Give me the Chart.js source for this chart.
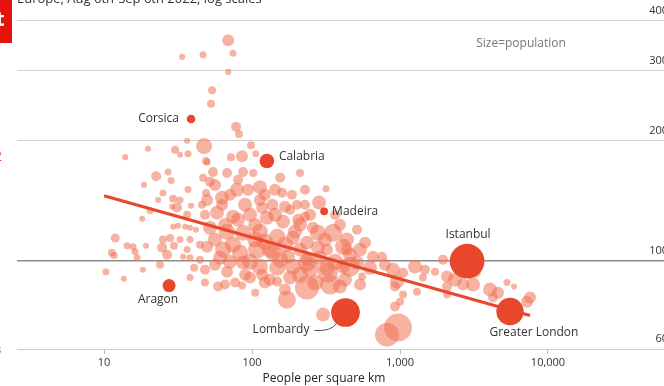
<!DOCTYPE html>
<html lang="en">
<head>
<meta charset="UTF-8">
<title>Density scatter</title>
<script src="https://cdn.jsdelivr.net/npm/chart.js"></script>
<style>
  html, body { margin: 0; padding: 0; overflow: hidden; background: #fff; }
  .wrap { width: 676px; height: 386px; }
</style>
</head>
<body>
<div class="wrap"><canvas id="chart"></canvas></div>
<script>
// regions: people per sq km, y value, population (millions)
const regionDensity = [
  69, 33.7, 46.7, 74.4, 69, 53.7, 52.8, 78, 81.7, 47.4,
  36.4, 98.5, 30.2, 32.6, 36.9, 19.8, 13.9, 72.1, 85.6, 106,
  48.9, 22.5, 27.1, 28.4, 18.6, 25, 29.3, 23.2, 36.9, 32.6,
  211, 316, 284, 18.1, 31.1, 36.4, 20.5, 11.9, 14.3, 15.7,
  11.3, 11.7, 16.2, 16.7, 19.2, 10.3, 13.6, 18.3, 23.9, 25,
  27.9, 24.7, 26.7, 29.7, 32.6, 36.4, 34.2, 29.3, 31.6, 35.3,
  38.1, 41.8, 38.7, 45.9, 48.9, 28.8, 38.1, 44.5, 44.5, 38.1,
  40.6, 48.1, 38.1, 48.1, 58.9, 46.7, 54.5, 52, 49.7, 67.8,
  87, 102, 113, 143, 186, 201, 167, 137, 79.2, 62.7,
  49.7, 58, 74.4, 97, 126, 162, 205, 258, 438, 512,
  52, 67.8, 87, 113, 148, 189, 235, 321, 49.7, 63.7,
  83, 108, 139, 175, 235, 438, 76.8, 85.6, 105, 122,
  148, 235, 337, 172, 302, 925, 97, 67.8, 87, 113,
  148, 189, 247, 321, 412, 512, 657, 756, 228, 353,
  279, 412, 537, 235, 326, 459, 554, 897, 1048, 1263,
  1475, 1724, 954, 1430, 1952, 2078, 2353, 3212, 2666, 3113,
  2078, 2078, 1303, 4057, 4594, 5284, 5893, 4251, 7557, 7214,
  1000, 925, 969, 817, 1048, 267, 393, 56.2, 71, 89.7,
  113, 65.7, 105, 167, 211, 56.2, 71, 97, 122, 155,
  195, 288, 364, 181, 132, 60.8, 80.4, 155, 181, 228,
  122, 94, 159.5, 228, 247, 311, 393, 459, 580, 626,
  791, 537, 425, 211, 167, 117, 89.7, 65.7, 56.2, 80.4,
  62.7, 48.1, 105, 132, 211, 279, 74.4, 143, 117, 364
];
const regionRate = [
  358, 325, 329, 332, 298, 268, 248, 217, 208, 194,
  200, 195, 190, 184.5, 185.5, 191, 182, 182, 183, 185.5,
  178, 163, 167, 159, 155, 148, 143, 142, 151, 142,
  166, 151.5, 140, 127.5, 136, 130.4, 133.5, 114, 109, 108.4,
  104.7, 103, 105.3, 101.7, 109, 93.8, 90.1, 94.9, 97.7, 113,
  114, 107.8, 103.5, 109, 113, 106.6, 102.3, 121.7, 122.4, 121.7,
  121, 119.6, 137.4, 138.2, 148, 136.6, 113, 109.7, 100.6, 101.7,
  96, 94.9, 90.7, 88.1, 86.1, 161.5, 167, 157.8, 177, 166,
  167, 166, 153, 150.7, 146.4, 138.2, 136.6, 138.2, 150.7, 143.9,
  142, 132, 129, 130.4, 128.2, 125.3, 126.7, 121, 113, 119.6,
  121, 118.2, 117.5, 118.2, 114.9, 114.2, 111, 106.6, 108.4, 106.6,
  104.7, 106.6, 104.7, 102.3, 100.6, 106.6, 88.1, 86.6, 83.1, 88.1,
  88.6, 85.6, 87.1, 79.8, 73.2, 76.7, 90.7, 93.8, 98.9, 96.6,
  96, 96.6, 96, 96, 96.6, 98.9, 102.3, 102.3, 129, 117.5,
  117.5, 108.4, 106.6, 98.9, 93.3, 96.6, 91.2, 94.9, 93.3, 96.6,
  94.9, 93.8, 88.6, 90.7, 100.6, 91.2, 89.6, 93.8, 87.1, 87.1,
  86.1, 82.2, 83.6, 84.6, 83.1, 88.1, 86.1, 80.8, 80.8, 78.9,
  78.9, 86.1, 67.9, 65.2, 82.2, 88.1, 86.1, 155, 146.4, 138.2,
  142, 123, 123, 109.7, 106.6, 113, 99.4, 99.4, 111.6, 100.6,
  118.2, 101.7, 99.4, 90.7, 89.6, 101.7, 159.7, 161.5, 134.2, 138.2,
  146.4, 150.7, 148.1, 150.7, 130.4, 112.9, 123.1, 103.5, 111, 96,
  97.7, 87.1, 89.6, 92.2, 84.6, 92.2, 92.2, 87.1, 97.7, 126.7,
  138.2, 130.4, 112.9, 106.6, 123.1, 107.8, 109.7, 130.4, 135.8, 130.4
];
const regionPop = [
  1.05, .07, .15, .15, .07, .26, .26, .59, .26, 2.37,
  .07, .26, .26, .07, .15, .07, .07, .26, 1.05, .15,
  .26, .59, .15, .15, .07, .15, .26, .07, .15, .15,
  .26, .15, 1.64, .07, .59, .26, .15, .41, .15, .15,
  .26, .15, .15, .15, .07, .15, .07, .07, .26, .26,
  .26, .59, .59, .26, .15, .15, .07, .07, .07, .07,
  .07, .07, .07, .26, .26, .07, .15, .26, .26, .15,
  .26, .59, .15, .26, .59, .26, .59, .59, .15, .59,
  .59, .26, 1.64, 1.05, .59, .59, 1.05, 1.05, 1.64, 1.64,
  1.05, 1.64, 1.64, 1.64, 1.64, 1.64, 1.05, 1.05, 1.64, .59,
  1.64, 2.37, 2.37, 2.37, 2.37, 1.64, 1.64, 1.05, 1.05, 2.37,
  2.37, 3.22, 2.37, 1.64, 1.05, 1.05, .59, .26, .26, 1.05,
  .59, 6.57, 4.21, 3.22, 1.64, .59, 1.05, 1.05, 1.64, 2.37,
  2.37, 2.37, 3.22, 2.37, 1.64, 1.64, 1.05, .59, .59, 3.22,
  2.37, 2.37, 1.64, 3.22, 4.21, 4.21, .26, 1.64, .59, 1.64,
  .59, .26, 1.64, .26, .59, 1.05, 1.64, 1.05, 1.05, 1.64,
  .59, .26, .26, 1.64, 1.05, .15, .07, .59, 1.05, 1.05,
  .26, .59, 9.47, 6.57, .26, 2.37, 1.64, 1.05, 1.05, 1.64,
  1.05, 1.64, 1.64, 2.37, 1.64, 1.64, 1.64, 2.37, 2.37, 2.37,
  1.64, 1.64, 2.37, 1.64, 1.05, 1.64, .59, .59, .59, .59,
  1.05, 1.05, .59, .59, 1.05, 1.64, 1.05, 1.64, 1.05, 1.64,
  1.05, 1.05, 1.64, 2.37, 1.05, 1.05, 1.05, .59, 1.05, 1.64,
  1.05, .59, 2.37, 2.37, 1.64, 1.64, 2.37, 1.64, 1.05, .59
];

// highlighted regions
const namedRegions = ['Corsica', 'Calabria', 'Madeira', 'Istanbul', 'Lombardy', 'Greater London', 'Aragon'];
const namedDensity = [38.7, 126, 307, 2840, 428, 5540, 27.5];
const namedRate = [227, 178, 133, 99.7, 74.1, 74.5, 86.6];
const namedPop = [0.34, 1.86, 0.25, 15.5, 10, 9.0, 1.33];

// fitted line end points
const trendDensity = [10, 7560];
const trendRate = [145.6, 72.8];

const xTicks = [10, 100, 1000, 10000];
const yTicks = [60, 100, 200, 300, 400];

const FONT = '"Open Sans", sans-serif';
const RED = '#e9472c';

const sizeFromPop = c => 2 + 3.9 * Math.sqrt(c.raw.pop);

const regionPoints = regionDensity.map((d, i) => ({ x: d, y: regionRate[i], pop: regionPop[i] }));
const namedPoints = namedDensity.map((d, i) => ({ x: d, y: namedRate[i], pop: namedPop[i], name: namedRegions[i] }));
const trendPoints = trendDensity.map((d, i) => ({ x: d, y: trendRate[i] }));

// label offsets from each highlighted bubble
const labelPlacement = {
  'Corsica': [-12, 0, 'right'],
  'Calabria': [12, -4, 'left'],
  'Madeira': [8, 0, 'left'],
  'Istanbul': [1, -27, 'center'],
  'Lombardy': [-36, 17, 'right'],
  'Greater London': [24, 21, 'center'],
  'Aragon': [-11, 14, 'center']
};

const annotations = {
  id: 'annotations',
  afterDatasetsDraw(chart) {
    const { ctx, chartArea, scales: { x, y } } = chart;
    ctx.save();

    // y tick labels sit above their gridlines at the right edge
    ctx.font = '11px ' + FONT;
    ctx.fillStyle = '#333';
    ctx.textAlign = 'right';
    ctx.textBaseline = 'middle';
    y.ticks.forEach(t => {
      ctx.fillText(String(t.value), chartArea.right - 8, y.getPixelForValue(t.value) - 10);
    });

    ctx.font = '12px ' + FONT;
    namedPoints.forEach(p => {
      const px = x.getPixelForValue(p.x);
      const py = y.getPixelForValue(p.y);
      const [dx, dy, align] = labelPlacement[p.name];
      ctx.textAlign = align;
      ctx.fillText(p.name, px + dx, py + dy);
      if (p.name === 'Lombardy') {
        ctx.strokeStyle = '#555';
        ctx.lineWidth = 1;
        ctx.beginPath();
        ctx.moveTo(px - 31, py + 18);
        ctx.quadraticCurveTo(px - 14, py + 19, px - 9, py + 11);
        ctx.stroke();
      }
    });

    // x axis title, centred under the visible part of the axis
    ctx.fillStyle = '#222';
    ctx.textAlign = 'center';
    ctx.fillText('People per square km', 324, 379);

    ctx.fillStyle = '#777';
    ctx.fillText('Size=population', 521, 44);

    // subtitle above the plot, mostly off the top edge
    ctx.fillStyle = '#333';
    ctx.textAlign = 'left';
    ctx.textBaseline = 'alphabetic';
    ctx.font = '13px ' + FONT;
    ctx.fillText('Europe, Aug 6th-Sep 6th 2022, log scales', 17, 3);

    // page edge bits on the left
    ctx.fillStyle = '#e3120b';
    ctx.fillRect(0, 0, 12, 43);
    ctx.fillStyle = '#fff';
    ctx.font = 'bold 20px ' + FONT;
    ctx.fillText('t', -4, 26);
    ctx.fillStyle = '#e8364f';
    ctx.font = '14px ' + FONT;
    ctx.fillText('2', -6, 161);
    ctx.fillStyle = '#2a6fb5';
    ctx.font = '11px ' + FONT;
    ctx.fillText('3', -5, 354);
    ctx.restore();
  }
};

new Chart(document.getElementById('chart'), {
  type: 'scatter',
  data: {
    datasets: [
      {
        data: regionPoints,
        backgroundColor: 'rgba(240,115,85,0.55)',
        borderWidth: 0,
        pointRadius: sizeFromPop,
        pointHoverRadius: sizeFromPop,
        order: 3
      },
      {
        type: 'line',
        data: trendPoints,
        borderColor: RED,
        borderWidth: 3,
        pointRadius: 0,
        order: 2
      },
      {
        data: namedPoints,
        backgroundColor: RED,
        borderWidth: 0,
        pointRadius: sizeFromPop,
        pointHoverRadius: sizeFromPop,
        order: 1
      }
    ]
  },
  options: {
    responsive: true,
    maintainAspectRatio: false,
    animation: false,
    events: [],
    layout: { autoPadding: false, padding: { left: 17, right: 0, top: 0, bottom: 0 } },
    plugins: { legend: { display: false }, tooltip: { enabled: false } },
    scales: {
      x: {
        type: 'logarithmic',
        min: 2.58,
        max: 73300,
        afterBuildTicks: axis => { axis.ticks = xTicks.map(v => ({ value: v })); },
        afterFit: axis => {
          axis.height = 37;
          axis.paddingLeft = 0;
          axis.paddingRight = 0;
        },
        grid: { drawOnChartArea: false, drawTicks: true, tickLength: 5, color: '#bbb' },
        border: { color: '#ccc' },
        ticks: {
          padding: 2,
          color: '#333',
          font: { family: FONT, size: 11 },
          maxRotation: 0,
          callback: v => v.toLocaleString('en-US')
        }
      },
      y: {
        type: 'logarithmic',
        position: 'right',
        min: 60,
        max: 451.6,
        afterBuildTicks: axis => { axis.ticks = yTicks.map(v => ({ value: v })); },
        afterFit: axis => {
          axis.width = 0;
          axis.paddingTop = 0;
          axis.paddingBottom = 0;
        },
        grid: {
          drawTicks: false,
          color: c => c.tick && c.tick.value === 100 ? '#8c8c8c' : '#d2d2d2',
          lineWidth: c => c.tick && c.tick.value === 100 ? 1.6 : 1
        },
        border: { display: false },
        ticks: { display: false }
      }
    }
  },
  plugins: [annotations]
});
</script>
</body>
</html>
